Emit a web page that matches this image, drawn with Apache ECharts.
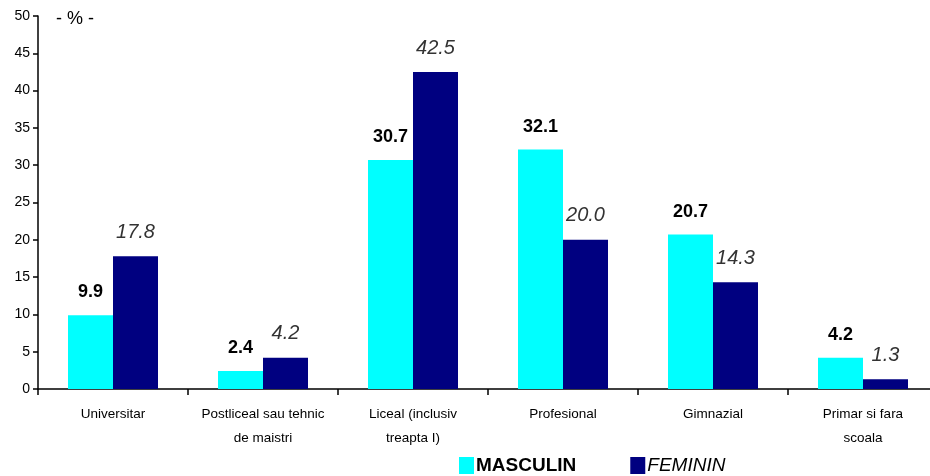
<!DOCTYPE html>
<html><head><meta charset="utf-8">
<script src="https://cdn.jsdelivr.net/npm/echarts@6/dist/echarts.min.js"></script>
<style>html,body{margin:0;padding:0;background:#fff;overflow:hidden}#c{width:940px;height:476px}</style>
</head><body><div id="c"></div>
<script>
const categories = ['Universitar', 'Postliceal sau tehnic\nde maistri', 'Liceal (inclusiv\ntreapta I)', 'Profesional', 'Gimnazial', 'Primar si fara\nscoala'];
const masculin = [9.9, 2.4, 30.7, 32.1, 20.7, 4.2];
const feminin = [17.8, 4.2, 42.5, 20.0, 14.3, 1.3];
const yTicks = [0, 5, 10, 15, 20, 25, 30, 35, 40, 45, 50];

const chart = echarts.init(document.getElementById('c'));
chart.setOption({
  animation: false,
  textStyle: { fontFamily: 'Liberation Sans, Arial, sans-serif' },
  grid: { left: 38, right: 2, top: 16, bottom: 87 },
  graphic: [{ type: 'text', left: 56, top: 10, style: { text: '- % -', fontSize: 18, fill: '#000', fontFamily: 'Liberation Sans, Arial, sans-serif' } }],
  legend: {
    bottom: -4, left: 454, itemWidth: 15, itemHeight: 17, itemGap: 54, icon: 'rect',
    data: [
      { name: 'MASCULIN', textStyle: { fontWeight: 'bold', fontSize: 19, color: '#000' } },
      { name: 'FEMININ', textStyle: { fontStyle: 'italic', fontSize: 19, color: '#000' } }
    ],
    textStyle: { padding: [0, 0, 0, -3] }
  },
  xAxis: {
    type: 'category', data: categories,
    axisLine: { lineStyle: { color: '#000', width: 1.5 } },
    axisTick: { show: true, length: 6, lineStyle: { color: '#000', width: 1.5 } },
    axisLabel: { color: '#000', fontSize: 13.5, lineHeight: 24, margin: 13, interval: 0 }
  },
  yAxis: {
    type: 'value', min: 0, max: 50, interval: 5,
    splitLine: { show: false },
    axisLine: { show: true, lineStyle: { color: '#000', width: 1.5 } },
    axisTick: { show: true, length: 5, lineStyle: { color: '#000', width: 1.5 } },
    axisLabel: { color: '#000', fontSize: 14, margin: 8, formatter: v => yTicks.includes(v) ? String(v) : '' }
  },
  series: [
    { name: 'MASCULIN', type: 'bar', data: masculin, barGap: '0%', barCategoryGap: '40%',
      itemStyle: { color: '#00FFFF' },
      label: { show: true, position: 'top', distance: 14, color: '#000', fontWeight: 'bold', fontSize: 18, formatter: p => p.value.toFixed(1) } },
    { name: 'FEMININ', type: 'bar', data: feminin,
      itemStyle: { color: '#000080' },
      label: { show: true, position: 'top', distance: 14, color: '#333', fontStyle: 'italic', fontSize: 20, formatter: p => p.value.toFixed(1) } }
  ]
});
</script></body></html>
